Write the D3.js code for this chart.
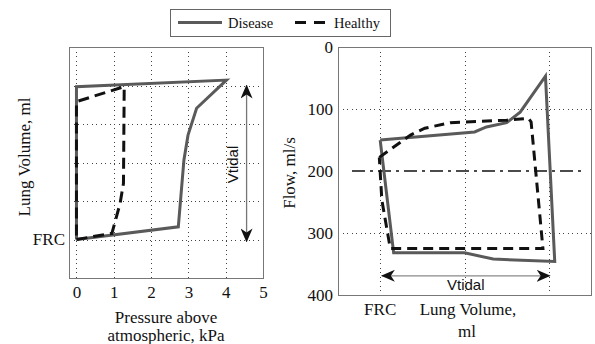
<!DOCTYPE html>
<html>
<head>
<meta charset="utf-8">
<script src="https://cdn.jsdelivr.net/npm/d3@7"></script>
<style>
  html, body { margin: 0; padding: 0; background: #fff; }
  svg { display: block; }
  text { font-family: "Liberation Serif", "Times New Roman", serif; fill: #111; }
  .sans { font-family: "Liberation Sans", Arial, sans-serif; }
  .grid { shape-rendering: crispEdges; }
</style>
</head>
<body>
<svg id="chart" width="595" height="344"></svg>
<script>
// ---------- DATA ----------
// Left panel: pressure-volume loops
const pvXTicks = [0, 1, 2, 3, 4, 5];
const pvYGrid = [0, 1, 2, 3, 4];
const pvYLabels = ["FRC"];
const diseasePressure = [0, 2.73, 2.88, 2.99, 3.22, 4.02, 0.0, 0];
const diseaseVolumeL  = [0, 0.33, 2.06, 2.71, 3.41, 4.14, 3.97, 0];
const healthyPressure = [0, 0.95, 1.17, 1.26, 1.28, 0.0, 0];
const healthyVolumeL  = [0, 0.16, 0.94, 1.46, 3.97, 3.58, 0];
const pvTidal = [-0.05, 4.0];   // volume span of Vtidal arrow
const pvTidalX = 4.56;

// Right panel: flow-volume loops
const flowTicks = [0, 100, 200, 300, 400];
const flowGrid = [100, 300];
const flowRefLine = 200;
const volGrid = [0, 1, 2];
const volLabels = ["FRC"];
const diseaseVolumeR = [0, 1.12, 1.26, 1.5, 1.66, 1.96, 2.07, 1.34, 1.0, 0.16, 0];
const diseaseFlow    = [150, 137, 129, 122, 105, 47, 346, 342, 332, 332, 150];
const healthyVolumeR = [-0.01, 0.36, 0.53, 0.83, 1.5, 1.76, 1.79, 1.93, 0.12, 0.02, -0.01];
const healthyFlow    = [178, 142, 131, 122, 118, 115, 121, 325, 325, 247, 178];
const flowTidal = [0.02, 2.01];
const flowTidalY = 369;

const seriesNames = ["Disease", "Healthy"];

// ---------- STYLE ----------
const diseaseColor = "#5a5a5a";
const healthyColor = "#111";
const frameColor = "#777";

const svg = d3.select("#chart");

// arrow marker
const defs = svg.append("defs");
function marker(id, orient) {
  defs.append("marker")
    .attr("id", id).attr("viewBox", "0 0 14 12")
    .attr("refX", 13).attr("refY", 6)
    .attr("markerWidth", 14).attr("markerHeight", 12)
    .attr("markerUnits", "userSpaceOnUse")
    .attr("orient", orient)
    .append("path").attr("d", "M0,0 L14,6 L0,12 L4,6 Z").attr("fill", "#111");
}
marker("arrEnd", "auto");
marker("arrStart", "auto-start-reverse");

// ---------- LEFT PANEL ----------
const L = { x0: 69, x1: 263, y0: 47, y1: 278 };
const xL = d3.scaleLinear().domain([-0.2, 5]).range([L.x0, L.x1]);
const yL = d3.scaleLinear().domain([-1, 5]).range([L.y1, L.y0]);
const gL = svg.append("g");

gL.selectAll(".vg").data(pvXTicks.filter(d => d < 5)).join("line").attr("class", "grid")
  .attr("x1", d => Math.round(xL(d)) + 0.5).attr("x2", d => Math.round(xL(d)) + 0.5)
  .attr("y1", L.y0).attr("y2", L.y1)
  .attr("stroke", "#444").attr("stroke-width", 1).attr("stroke-dasharray", "1,3.5");
gL.selectAll(".hg").data(pvYGrid).join("line").attr("class", "grid")
  .attr("x1", L.x0).attr("x2", L.x1)
  .attr("y1", d => Math.round(yL(d)) + 0.5).attr("y2", d => Math.round(yL(d)) + 0.5)
  .attr("stroke", "#444").attr("stroke-width", 1).attr("stroke-dasharray", "1,3.5");
gL.append("rect").attr("class", "grid").attr("x", L.x0 + 0.5).attr("y", L.y0 + 0.5)
  .attr("width", L.x1 - L.x0).attr("height", L.y1 - L.y0)
  .attr("fill", "none").attr("stroke", frameColor).attr("stroke-width", 1);

// x axis tick labels
const axL = d3.axisBottom(xL).tickValues(pvXTicks).tickSize(0).tickPadding(0).tickFormat(d3.format("d"));
const axLg = gL.append("g").attr("transform", `translate(0,${L.y1 + 6})`).call(axL);
axLg.select(".domain").remove();
axLg.selectAll("text").attr("font-size", 17).attr("dy", "0.85em")
  .attr("font-family", "Liberation Serif, serif").attr("fill", "#111");

// y label FRC
gL.append("text").attr("x", L.x0 - 4).attr("y", yL(0)).attr("dy", "0.35em")
  .attr("text-anchor", "end").attr("font-size", 17).text(pvYLabels[0]);

const line = d3.line();
gL.append("path")
  .attr("d", line(diseasePressure.map((p, i) => [xL(p), yL(diseaseVolumeL[i])])))
  .attr("fill", "none").attr("stroke", diseaseColor).attr("stroke-width", 3).attr("stroke-linejoin", "miter");
gL.append("path")
  .attr("d", line(healthyPressure.map((p, i) => [xL(p), yL(healthyVolumeL[i])])))
  .attr("fill", "none").attr("stroke", healthyColor).attr("stroke-width", 3).attr("stroke-dasharray", "11,6");

// Vtidal arrow (left)
gL.append("line")
  .attr("x1", xL(pvTidalX)).attr("x2", xL(pvTidalX))
  .attr("y1", yL(pvTidal[0])).attr("y2", yL(pvTidal[1]))
  .attr("stroke", "#777").attr("stroke-width", 1.3)
  .attr("marker-start", "url(#arrStart)").attr("marker-end", "url(#arrEnd)");
gL.append("text").attr("class", "sans")
  .attr("transform", `translate(${xL(pvTidalX) - 14},${(yL(pvTidal[0]) + yL(pvTidal[1])) / 2 + 1}) rotate(-90)`)
  .attr("text-anchor", "middle").attr("dy", "0.35em").attr("font-size", 15).text("Vtidal");

// axis titles
gL.append("text").attr("transform", `translate(24,157) rotate(-90)`)
  .attr("text-anchor", "middle").attr("dy", "0.35em").attr("font-size", 17).text("Lung Volume, ml");
gL.append("text").attr("x", 166).attr("y", 323).attr("text-anchor", "middle")
  .attr("font-size", 17).text("Pressure above");
gL.append("text").attr("x", 166).attr("y", 341).attr("text-anchor", "middle")
  .attr("font-size", 17).text("atmospheric, kPa");

// ---------- RIGHT PANEL ----------
const R = { x0: 338, x1: 591, y0: 47, y1: 295 };
const xR = d3.scaleLinear().domain([-0.5, 2.5]).range([R.x0, R.x1]);
const yR = d3.scaleLinear().domain([0, 400]).range([R.y0, R.y1]);
const gR = svg.append("g");

gR.selectAll(".vg").data(volGrid).join("line").attr("class", "grid")
  .attr("x1", d => Math.round(xR(d)) + 0.5).attr("x2", d => Math.round(xR(d)) + 0.5)
  .attr("y1", R.y0).attr("y2", R.y1)
  .attr("stroke", "#444").attr("stroke-width", 1).attr("stroke-dasharray", "1,3.5");
gR.selectAll(".hg").data(flowGrid).join("line").attr("class", "grid")
  .attr("x1", R.x0).attr("x2", R.x1)
  .attr("y1", d => Math.round(yR(d)) + 0.5).attr("y2", d => Math.round(yR(d)) + 0.5)
  .attr("stroke", "#444").attr("stroke-width", 1).attr("stroke-dasharray", "1,3.5");
gR.append("rect").attr("class", "grid").attr("x", R.x0 + 0.5).attr("y", R.y0 + 0.5)
  .attr("width", R.x1 - R.x0).attr("height", R.y1 - R.y0)
  .attr("fill", "none").attr("stroke", frameColor).attr("stroke-width", 1);
gR.append("line")
  .attr("x1", R.x0 + 14).attr("x2", R.x1 - 6)
  .attr("y1", yR(flowRefLine)).attr("y2", yR(flowRefLine))
  .attr("stroke", "#111").attr("stroke-width", 1.6).attr("stroke-dasharray", "13,5,3,5");

const axR = d3.axisLeft(yR).tickValues(flowTicks).tickSize(0).tickPadding(5).tickFormat(d3.format("d"));
const axRg = gR.append("g").attr("transform", `translate(${R.x0},0)`).call(axR);
axRg.select(".domain").remove();
axRg.selectAll("text").attr("font-size", 17)
  .attr("font-family", "Liberation Serif, serif").attr("fill", "#111");

gR.append("text").attr("x", xR(0)).attr("y", 315).attr("text-anchor", "middle")
  .attr("font-size", 17).text(volLabels[0]);
gR.append("text").attr("x", 468).attr("y", 315).attr("text-anchor", "middle")
  .attr("font-size", 17).text("Lung Volume,");
gR.append("text").attr("x", 467).attr("y", 337).attr("text-anchor", "middle")
  .attr("font-size", 17).text("ml");
gR.append("text").attr("transform", `translate(289,173) rotate(-90)`)
  .attr("text-anchor", "middle").attr("dy", "0.35em").attr("font-size", 17).text("Flow, ml/s");

gR.append("path")
  .attr("d", line(diseaseVolumeR.map((v, i) => [xR(v), yR(diseaseFlow[i])])))
  .attr("fill", "none").attr("stroke", diseaseColor).attr("stroke-width", 3);
gR.append("path")
  .attr("d", line(healthyVolumeR.map((v, i) => [xR(v), yR(healthyFlow[i])])))
  .attr("fill", "none").attr("stroke", healthyColor).attr("stroke-width", 3).attr("stroke-dasharray", "10,6");

gR.append("line")
  .attr("x1", xR(flowTidal[0])).attr("x2", xR(flowTidal[1]))
  .attr("y1", yR(flowTidalY)).attr("y2", yR(flowTidalY))
  .attr("stroke", "#888").attr("stroke-width", 1.3)
  .attr("marker-start", "url(#arrStart)").attr("marker-end", "url(#arrEnd)");
gR.append("text").attr("class", "sans")
  .attr("x", (xR(flowTidal[0]) + xR(flowTidal[1])) / 2).attr("y", 290)
  .attr("text-anchor", "middle").attr("font-size", 15).text("Vtidal");

// ---------- LEGEND ----------
const lg = svg.append("g");
lg.append("rect").attr("x", 170.5).attr("y", 9.5).attr("width", 220).attr("height", 27)
  .attr("fill", "#fff").attr("stroke", "#666").attr("stroke-width", 1);
lg.append("line").attr("x1", 178).attr("x2", 222).attr("y1", 22.5).attr("y2", 22.5)
  .attr("stroke", diseaseColor).attr("stroke-width", 3);
lg.append("text").attr("x", 228).attr("y", 27.5).attr("font-size", 14.5).text(seriesNames[0]);
lg.append("line").attr("x1", 295).attr("x2", 331).attr("y1", 22.5).attr("y2", 22.5)
  .attr("stroke", healthyColor).attr("stroke-width", 3).attr("stroke-dasharray", "11,8");
lg.append("text").attr("x", 334).attr("y", 27.5).attr("font-size", 14.5).text(seriesNames[1]);
</script>
</body>
</html>
